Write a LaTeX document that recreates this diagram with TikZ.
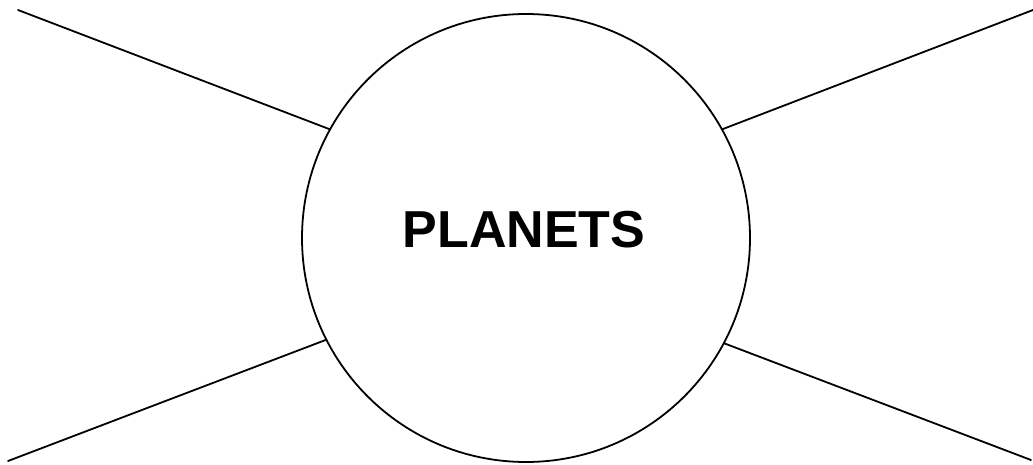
\documentclass[tikz,border=0pt]{standalone}
\usepackage{fontspec}
\newfontfamily\titlefont{Liberation Sans}
\begin{document}
\begin{tikzpicture}[x=1pt,y=-1pt,
  ring/.style={circle,draw,line width=1.8pt,minimum size=448pt,inner sep=0pt,outer sep=0pt},
  spoke/.style={line width=1.8pt,line cap=round},
  title/.style={font=\titlefont\bfseries\fontsize{52}{52}\selectfont}]
\useasboundingbox (0,0) rectangle (1033,465);
\node[ring] (c) at (526,238) {};
\node[title] (t) at (524,230) {PLANETS};
\coordinate (tl) at (18,10);
\coordinate (tr) at (1033,10);
\coordinate (bl) at (8,461);
\coordinate (br) at (1031,460);
\draw[spoke] (tl) -- (c.151);
\draw[spoke] (tr) -- (c.29.5);
\draw[spoke] (bl) -- (c.207);
\draw[spoke] (br) -- (c.332.6);
\end{tikzpicture}
\end{document}
